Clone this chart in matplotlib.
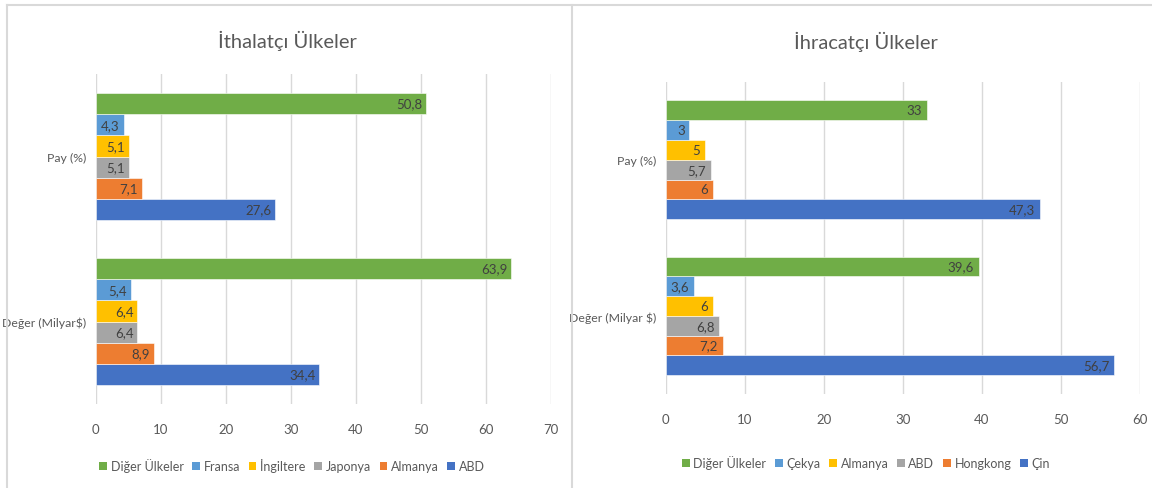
import matplotlib
matplotlib.use("Agg")
import matplotlib.pyplot as plt
from matplotlib.lines import Line2D
from matplotlib.patches import Patch
from matplotlib import font_manager
import numpy as np

_names = {f.name for f in font_manager.fontManager.ttflist}
_fam = [n for n in ['Liberation Sans Narrow', 'Lato', 'DejaVu Sans'] if n in _names] or ['DejaVu Sans']
plt.rcParams['font.family'] = _fam

# ---- data ----
categories_left = ["Değer (Milyar$)", "Pay (%)"]
series_left = ["ABD", "Almanya", "Japonya", "İngiltere", "Fransa", "Diğer Ülkeler"]
values_left = {
    "ABD": [34.4, 27.6],
    "Almanya": [8.9, 7.1],
    "Japonya": [6.4, 5.1],
    "İngiltere": [6.4, 5.1],
    "Fransa": [5.4, 4.3],
    "Diğer Ülkeler": [63.9, 50.8],
}
categories_right = ["Değer (Milyar $)", "Pay (%)"]
series_right = ["Çin", "Hongkong", "ABD", "Almanya", "Çekya", "Diğer Ülkeler"]
values_right = {
    "Çin": [56.7, 47.3],
    "Hongkong": [7.2, 6],
    "ABD": [6.8, 5.7],
    "Almanya": [6, 5],
    "Çekya": [3.6, 3],
    "Diğer Ülkeler": [39.6, 33],
}
xticks_left = [0, 10, 20, 30, 40, 50, 60, 70]
xticks_right = [0, 10, 20, 30, 40, 50, 60]
colors = ["#4472C4", "#ED7D31", "#A5A5A5", "#FFC000", "#5B9BD5", "#70AD47"]

W, H = 1152, 489
fig = plt.figure(figsize=(W / 100, H / 100), dpi=100)

def fmt(v):
    return ("%g" % v).replace(".", ",")

def draw(ax, cats, series, vals, xticks, title, title_xy, leg_xy, group=0.77):
    n = len(series)
    h = group / n
    y = np.arange(len(cats))
    for i, s in enumerate(series):
        pos = y - group / 2 + h * (i + 0.5)
        bars = ax.barh(pos, vals[s], height=h, color=colors[i], label=s,
                       edgecolor="white", linewidth=0.4, zorder=3)
        for b, v in zip(bars, vals[s]):
            ax.text(b.get_width() - 0.6, b.get_y() + b.get_height() / 2, fmt(v),
                    ha="right", va="center", fontsize=9.5, color="#404040", zorder=4)
    ax.set_xlim(xticks[0], xticks[-1])
    ax.set_ylim(-0.5, len(cats) - 0.5)
    ax.set_xticks(xticks)
    ax.set_xticklabels([str(t) for t in xticks])
    ax.set_yticks(y)
    ax.set_yticklabels(cats)
    ax.grid(axis="x", color="#D9D9D9", linewidth=1, zorder=0)
    for sp in ax.spines.values():
        sp.set_visible(False)
    ax.tick_params(axis="both", length=0, colors="#595959")
    ax.tick_params(axis="x", pad=14, labelsize=9.5)
    ax.tick_params(axis="y", pad=7, labelsize=8.8)
    fig.text(title_xy[0] / W, 1 - title_xy[1] / H, title, ha="center", va="center",
             fontsize=14.5, color="#595959")
    handles = [Patch(facecolor=colors[i], label=series[i]) for i in range(n - 1, -1, -1)]
    fig.legend(handles=handles, loc="center", bbox_to_anchor=(leg_xy[0] / W, 1 - leg_xy[1] / H),
               ncol=n, frameon=False, fontsize=9, handlelength=0.6, handleheight=0.6,
               handletextpad=0.3, columnspacing=0.7, labelcolor="#595959")

axL = fig.add_axes([95.7 / W, 1 - 405 / H, (551 - 95.7) / W, (405 - 75) / H])
draw(axL, categories_left, series_left, values_left, xticks_left,
     "İthalatçı Ülkeler", (287, 41), (292, 466))

axR = fig.add_axes([665.7 / W, 1 - 395 / H, (1140 - 665.7) / W, (395 - 82.7) / H])
draw(axR, categories_right, series_right, values_right, xticks_right,
     "İhracatçı Ülkeler", (866, 42), (866, 463), group=0.76)

# panel borders
bc = "#D9D9D9"
fig.add_artist(Line2D([7 / W, 1], [1 - 6 / H, 1 - 6 / H], color=bc, linewidth=1.5))
fig.add_artist(Line2D([7 / W, 7 / W], [0, 1 - 6 / H], color=bc, linewidth=1.5))
fig.add_artist(Line2D([571.5 / W, 571.5 / W], [0, 1 - 6 / H], color=bc, linewidth=1.5))

fig.savefig("out.png", dpi=100, facecolor="white")
